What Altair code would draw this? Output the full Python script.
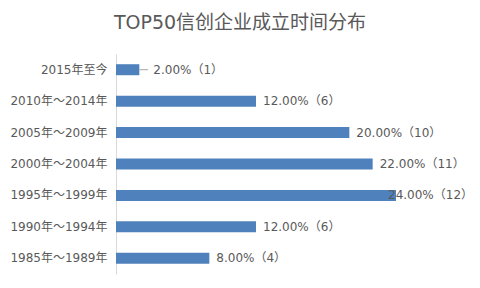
import altair as alt
import pandas as pd

categories = ["2015年至今", "2010年～2014年", "2005年～2009年", "2000年～2004年",
              "1995年～1999年", "1990年～1994年", "1985年～1989年"]
shares = [2, 12, 20, 22, 24, 12, 8]
counts = [1, 6, 10, 11, 12, 6, 4]

df = pd.DataFrame({"cat": categories, "share": shares, "count": counts})
df["label"] = [f"{s:.2f}%（{c}）" for s, c in zip(shares, counts)]

FONT = "DejaVu Sans, Noto Sans CJK SC"
GRAY = "#595959"

y = alt.Y("cat:N", sort=categories, title=None,
          scale=alt.Scale(paddingInner=0.64, paddingOuter=0.32),
          axis=alt.Axis(domainColor="#d9d9d9", ticks=False, labelPadding=9,
                        labelFontSize=12, labelColor=GRAY, labelFont=FONT, grid=False))
x = alt.X("share:Q", scale=alt.Scale(domain=[0, 30], nice=False), axis=None)

base = alt.Chart(df).encode(y=y)

bars = base.mark_bar(color="#4F81BD", size=11).encode(x=x)

labels_mid = base.transform_filter("datum.share >= 5 && datum.share < 23").mark_text(
    align="left", baseline="middle", dx=7, fontSize=12, font=FONT, color=GRAY
).encode(x=x, text="label:N")

labels_top = base.transform_filter("datum.share >= 23").mark_text(
    align="left", baseline="middle", dx=-8, fontSize=12, font=FONT, color=GRAY
).encode(x=x, text="label:N")

labels_small = base.transform_filter("datum.share < 5").mark_text(
    align="left", baseline="middle", dx=14, fontSize=12, font=FONT, color=GRAY
).encode(x=x, text="label:N")

leader = base.transform_filter("datum.share < 5").transform_calculate(
    end="datum.share + 0.75"
).mark_rule(color="#a6a6a6", strokeWidth=1).encode(x=x, x2="end:Q")

chart = alt.layer(bars, leader, labels_mid, labels_top, labels_small).properties(
    width=350, height=220,
    background="white",
    title=alt.TitleParams("TOP50信创企业成立时间分布", fontSize=19, font=FONT,
                          color=GRAY, fontWeight="normal", anchor="middle",
                          dx=-51, offset=21),
    padding={"left": 116, "top": 54, "right": 14, "bottom": 14},
    autosize=alt.AutoSizeParams(type="none"),
).configure_view(stroke=None)

chart.save("out.html", embed_options={"renderer": "svg", "actions": False})
